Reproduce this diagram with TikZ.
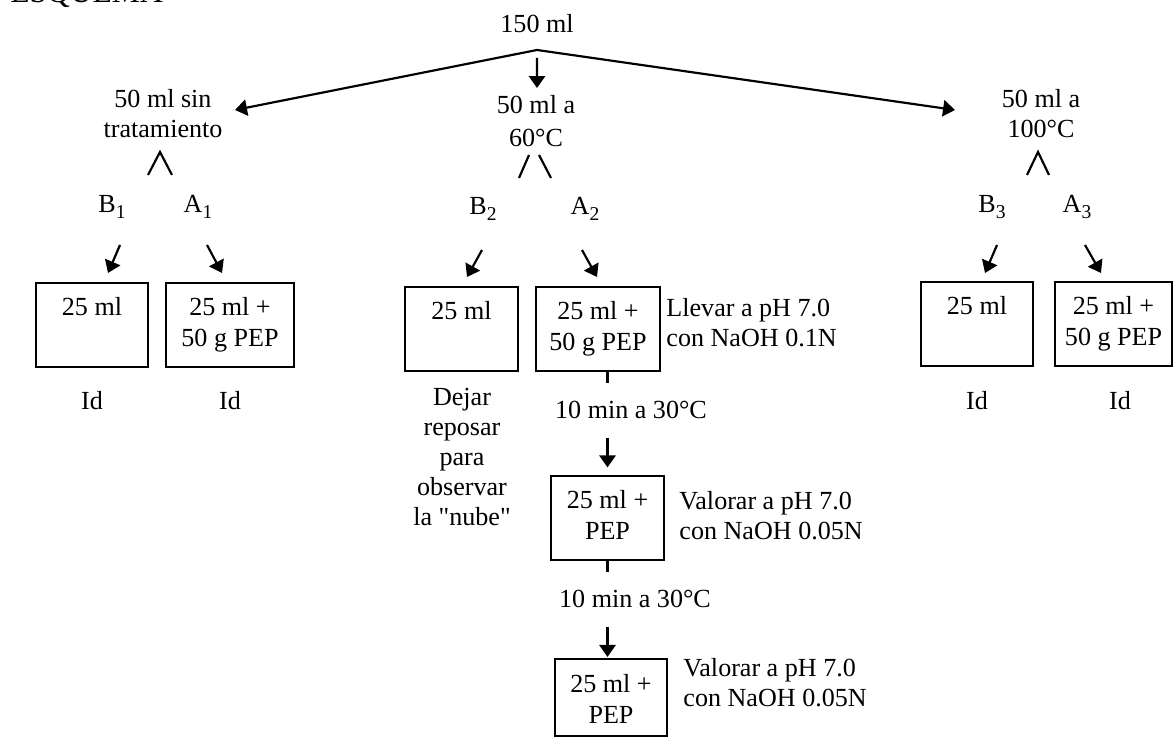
\documentclass[tikz,border=0pt]{standalone}
\usepackage{fontspec}
\setmainfont{Liberation Serif}
\usetikzlibrary{arrows.meta,calc}
\newcommand{\lowix}[1]{\raisebox{-0.22em}{\fontsize{9}{10}\selectfont#1}}

\begin{document}
\begin{tikzpicture}[
  x=4.6pt,y=4.6pt,
  font=\fontsize{12}{14.2}\selectfont,
  ttl/.style={font=\fontsize{14.5}{17}\selectfont, anchor=base west, inner sep=0pt},
  lbl/.style={align=center, anchor=base, inner sep=0pt},
  side/.style={align=left, anchor=base west, inner sep=0pt},
  tag/.style={anchor=base, inner sep=0pt},
  sbox/.style={draw, line width=0.8pt, anchor=north, align=flush center, inner xsep=0pt, inner ysep=0pt, text height=15.2pt, text depth=23.5pt},
  flowarr/.style={-{Triangle[length=5.5pt,width=7.5pt]}, line width=1pt},
  stub/.style={line width=1.2pt},
  caret/.style={line width=1pt},
]
\useasboundingbox (0,0) rectangle (117.3,73.7);
\node[ttl] (title) at (1.0,73.4) {ESQUEMA};
% split of the 150 ml
\node[tag] (n0) at (53.7,70.4) {150 ml};
\coordinate (split) at (53.7,68.7);
\node[lbl] (n1) at (16.3,59.9) {50 ml sin\\tratamiento};
\node[lbl] (n2) at (53.6,59.0) {50 ml a\\[1pt]60°C};
\node[lbl] (n3) at (104.1,59.9) {50 ml a\\100°C};
\draw[flowarr] (split) -- ($(n1.base)+(7.2,2.8)$);
\draw[flowarr] (split) -- ($(n3.base)+(-8.6,2.8)$);
\draw[flowarr] ($(split)+(0,-0.8)$) -- ($(n2.base)+(0.1,5.9)$);
\draw[caret] (14.8,56.2) -- (16.0,58.5) -- (17.2,56.2);
\draw[caret] (51.9,55.9) -- (52.9,58.2) (53.9,58.2) -- (55.1,55.9);
\draw[caret] (102.7,56.2) -- (103.8,58.5) -- (104.9,56.2);
% B / A branches
\node[tag] (b1) at (11.2,52.4) {B\lowix{1}};
\node[tag] (a1) at (19.8,52.4) {A\lowix{1}};
\node[tag] (b2) at (48.3,52.2) {B\lowix{2}};
\node[tag] (a2) at (58.5,52.2) {A\lowix{2}};
\node[tag] (b3) at (99.2,52.4) {B\lowix{3}};
\node[tag] (a3) at (107.7,52.4) {A\lowix{3}};
\node[sbox,text width=51.5pt] (bB1) at (9.2,45.5) {25 ml};
\node[sbox,text width=58.9pt] (bA1) at (23.0,45.5) {25 ml +\\50 g PEP};
\node[sbox,text width=52.0pt] (bB2) at (46.15,45.1) {25 ml};
\node[sbox,text width=57.0pt] (bA2) at (59.8,45.1) {25 ml +\\50 g PEP};
\node[sbox,text width=51.5pt] (bB3) at (97.7,45.6) {25 ml};
\node[sbox,text width=53.8pt] (bA3) at (111.35,45.6) {25 ml +\\50 g PEP};
\draw[flowarr] ($(b1.base)+(0.8,-3.2)$) -- ($(bB1.north)+(1.6,0.9)$);
\draw[flowarr] ($(a1.base)+(0.9,-3.2)$) -- ($(bA1.north)+(-0.8,0.9)$);
\draw[flowarr] ($(b2.base)+(-0.1,-3.5)$) -- ($(bB2.north)+(0.55,0.9)$);
\draw[flowarr] ($(a2.base)+(-0.3,-3.5)$) -- ($(bA2.north)+(-0.1,0.9)$);
\draw[flowarr] ($(b3.base)+(0.5,-3.2)$) -- ($(bB3.north)+(0.8,0.8)$);
\draw[flowarr] ($(a3.base)+(0.8,-3.2)$) -- ($(bA3.north)+(-1.25,0.8)$);
\node[tag] (id1) at (9.2,32.7) {Id};
\node[tag] (id2) at (23.0,32.7) {Id};
\node[tag] (id3) at (97.7,32.7) {Id};
\node[tag] (id4) at (112.0,32.7) {Id};
\node[lbl,font=\fontsize{12}{13.8}\selectfont] (note) at (46.2,21.1) {Dejar\\reposar\\para\\observar\\la \textquotedbl nube\textquotedbl};
% treated sample, step by step
\node[side] (s1) at (66.6,39.0) {Llevar a pH 7.0\\con NaOH 0.1N};
\node[lbl,inner ysep=8.5pt] (t1) at (63.1,31.8) {10 min a 30°C};
\node[sbox,text width=52.0pt] (bA2b) at (60.75,26.2) {25 ml +\\PEP};
\node[side] (s2) at (67.9,19.7) {Valorar a pH 7.0\\con NaOH 0.05N};
\node[lbl,inner ysep=8.5pt] (t2) at (63.5,12.9) {10 min a 30°C};
\node[sbox,text width=51.5pt,text height=15.6pt,text depth=19.8pt] (bA2c) at (61.1,7.9) {25 ml +\\PEP};
\node[side] (s3) at (68.3,3.0) {Valorar a pH 7.0\\con NaOH 0.05N};
\draw[stub] (bA2b.north |- bA2.south) -- (bA2b.north |- t1.north);
\draw[flowarr,shorten >=3.5pt] (bA2b.north |- t1.south) -- (bA2b.north);
\draw[stub] (bA2b.south) -- (bA2b.south |- t2.north);
\draw[flowarr,shorten >=0.5pt] (bA2b.south |- t2.south) -- (bA2b.south |- bA2c.north);

\end{tikzpicture}
\end{document}
